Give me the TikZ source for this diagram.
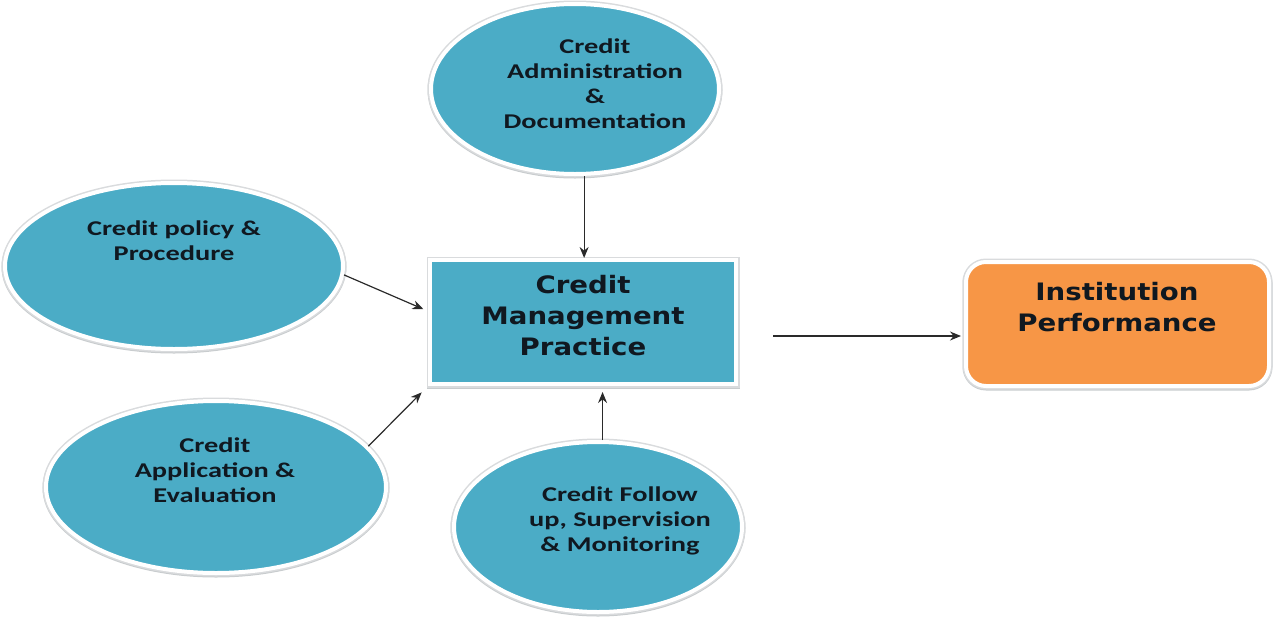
\documentclass[tikz,border=0pt]{standalone}
\usepackage{fontspec}
\usetikzlibrary{shapes.geometric,shadows,arrows.meta}
\newfontfamily\ellfont[FakeStretch=1.35]{Carlito}
\newfontfamily\boxfont[FakeStretch=1.15]{DejaVu Sans}
\definecolor{aquafill}{HTML}{4BACC6}
\definecolor{orangefill}{HTML}{F79646}
\definecolor{arrowgray}{HTML}{2A2A2A}
\definecolor{inkdark}{HTML}{101820}
\definecolor{rimgray}{HTML}{C8CCCE}

\tikzset{
  % light grey rim around a white border, slightly heavier towards the bottom
  rimmed/.style={
    preaction={draw=rimgray, line width=7pt, transform canvas={yshift=-1pt}},
    preaction={draw=rimgray!70, line width=7pt}},
  bubble/.style={ellipse, draw=white, line width=4pt, fill=aquafill, inner sep=0pt, rimmed},
  bubbletext/.style={font=\ellfont\bfseries\fontsize{21}{25}\selectfont, align=center, text=inkdark},
  centrebox/.style={rectangle, draw=white, line width=4pt, fill=aquafill, inner sep=0pt, rimmed},
  resultbox/.style={rectangle, rounded corners=20pt, draw=white, line width=4pt, fill=orangefill, inner sep=0pt, rimmed},
  boxtext/.style={font=\boxfont\bfseries\fontsize{24}{31}\selectfont, align=center, text=inkdark},
  link/.style={draw=arrowgray, line width=1.2pt, -{Stealth[length=11pt,width=9pt]}}
}

\begin{document}
\begin{tikzpicture}[x=1pt,y=-1pt]
  \useasboundingbox (0,0) rectangle (1275,619);

  % factor bubbles
  \node[bubble, minimum width=288pt, minimum height=170pt] (admin) at (575,89) {};
  \node[bubble, minimum width=338pt, minimum height=166pt] (policy) at (174,266) {};
  \node[bubble, minimum width=340pt, minimum height=172pt] (appl) at (216,487) {};
  \node[bubble, minimum width=288pt, minimum height=170pt] (follow) at (598,527) {};

  \node[bubbletext] (admintext) at (595,84) {Credit\\Administration\\\&\\Documentation};
  \node[bubbletext] (policytext) at (174,241) {Credit policy \&\\Procedure};
  \node[bubbletext] (appltext) at (215,470) {Credit\\Application \&\\Evaluation};
  \node[bubbletext] (followtext) at (620,521) {Credit Follow\\up, Supervision\\\& Monitoring};

  % central practice and outcome
  \node[centrebox, minimum width=306pt, minimum height=124pt] (cmp) at (583,322) {};
  \node[boxtext] (cmptext) at (583,316) {Credit\\Management\\Practice};

  \node[resultbox, minimum width=303pt, minimum height=124pt] (perf) at (1117.5,324) {};
  \node[boxtext] (perftext) at (1117,307) {Institution\\Performance};

  % connectors
  \coordinate (rstart) at (773,336);
  \draw[link] (admin.-84) -- (admin.-84 |- cmp.north);
  \draw[link] (follow.87) -- ([yshift=-6pt]follow.87 |- cmp.south);
  \draw[link, shorten >=5pt] (policy.-3) -- (cmp.176.7);
  \draw[link, shorten >=9pt] (appl.15.4) -- (cmp.south west);
  \draw[link, shorten >=3pt] (rstart) -- (rstart -| perf.west);
\end{tikzpicture}
\end{document}
